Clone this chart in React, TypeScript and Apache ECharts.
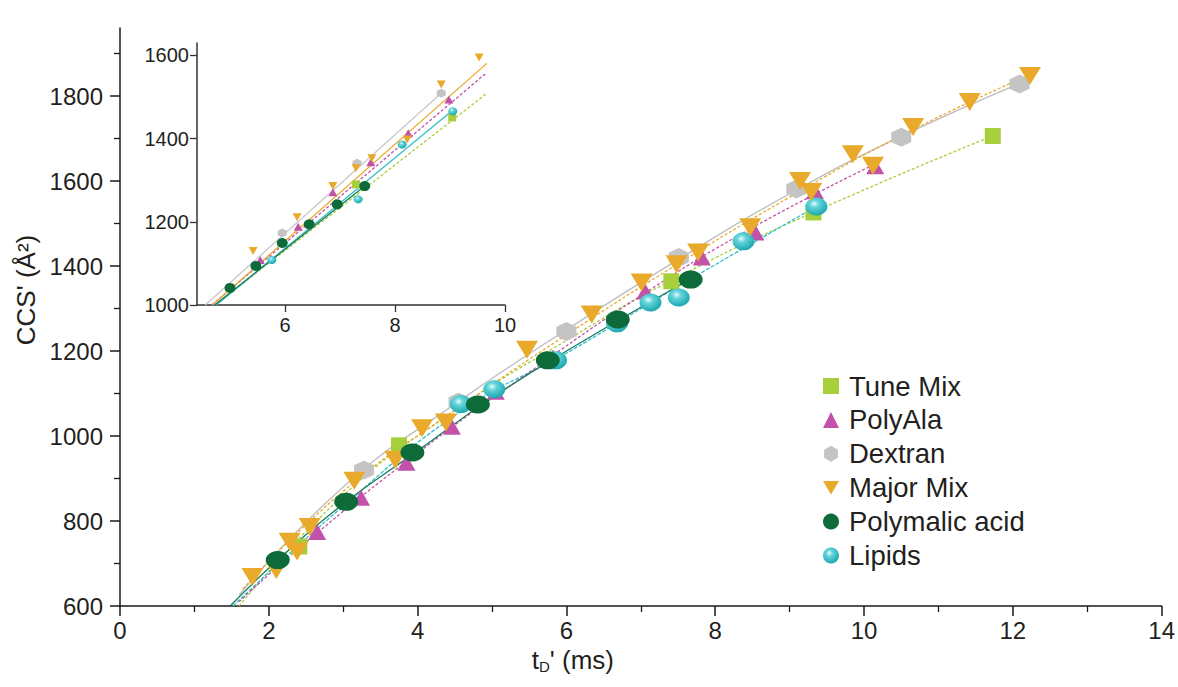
import React, { useEffect, useRef } from "react";
import * as echarts from "echarts";

// ---------- main chart data (t_D' ms, CCS' Å²) ----------
const tuneMix = [[2.41, 740], [3.75, 978], [7.41, 1364], [9.32, 1526], [11.73, 1706]];
const polyAla = [[2.65, 774], [3.24, 855], [3.85, 937], [4.46, 1022], [5.05, 1104], [5.82, 1185], [7.06, 1340], [7.82, 1420], [8.54, 1479], [9.34, 1576], [10.15, 1635]];
const dextran = [[3.28, 920], [4.55, 1080], [6.0, 1246], [7.51, 1420], [9.09, 1581], [10.5, 1703], [12.09, 1828]];
const majorMix = [[1.78, 668], [2.1, 685], [2.28, 751], [2.38, 728], [2.55, 786], [3.15, 895], [3.7, 944], [4.06, 1018], [4.38, 1032], [5.47, 1203], [6.34, 1286], [7.01, 1361], [7.48, 1404], [7.77, 1432], [8.47, 1491], [9.14, 1600], [9.29, 1574], [9.85, 1663], [10.12, 1636], [10.66, 1727], [11.42, 1786], [12.23, 1847]];
const polymalic = [[2.12, 708], [3.04, 845], [3.93, 961], [4.81, 1074], [5.75, 1178], [6.69, 1274], [7.67, 1368]];
const lipids = [[4.58, 1075], [5.03, 1110], [5.86, 1178], [6.68, 1265], [7.13, 1314], [7.51, 1326], [8.38, 1458], [9.36, 1540]];

// fitted curves, points
const fitTune = [[1.6, 600], [3, 860], [4.5, 1060], [6, 1225], [7.4, 1365], [9.3, 1525], [11.73, 1706]];
const fitPolyAla = [[1.6, 610], [2.5, 750], [4, 960], [5.5, 1150], [7, 1330], [8.5, 1490], [10.15, 1640]];
const fitDextran = [[1.6, 625], [3, 880], [4.5, 1075], [6, 1250], [7.5, 1415], [9, 1570], [10.5, 1705], [12.1, 1830]];
const fitMajor = [[1.65, 640], [3, 870], [4.5, 1060], [6, 1238], [7.5, 1405], [9, 1562], [10.5, 1707], [12.25, 1852]];
const fitPolymalic = [[1.48, 600], [2.12, 708], [3, 840], [4, 965], [5, 1090], [6, 1200], [7.67, 1370]];
const fitLipids = [[1.52, 600], [3, 835], [4.6, 1060], [6, 1195], [7.5, 1352], [9.36, 1540]];

// ---------- inset data ----------
const inTune = [[7.29, 1290], [9.04, 1451]];
const inPolyAla = [[5.55, 1108], [6.24, 1188], [6.87, 1271], [7.56, 1343], [8.24, 1413], [8.98, 1494]];
const inDextran = [[5.95, 1173], [7.31, 1341], [8.84, 1509]];
const inMajor = [[5.42, 1130], [6.22, 1211], [6.87, 1286], [7.29, 1329], [7.58, 1353], [8.22, 1398], [8.84, 1530], [9.53, 1595]];
const inPolymalic = [[5.0, 1041], [5.47, 1094], [5.95, 1149], [6.44, 1194], [6.95, 1242], [7.45, 1286]];
const inLipids = [[5.76, 1108], [7.33, 1254], [8.13, 1386], [9.05, 1466]];
const inFitTune = [[4.73, 1000], [9.67, 1509]];
const inFitPolyAla = [[4.67, 1000], [9.67, 1559]];
const inFitDextran = [[4.55, 1000], [8.84, 1509]];
const inFitMajor = [[4.68, 1000], [9.67, 1581]];
const inFitPolymalic = [[4.72, 1000], [7.45, 1286]];
const inFitLipids = [[4.75, 1000], [9.05, 1468]];

// ---------- ticks ----------
const mainYMajor = [600, 800, 1000, 1200, 1400, 1600, 1800];
const mainYMinor = [700, 900, 1100, 1300, 1500, 1700, 1900];
const insetXTicks = [6, 8, 10];
const insetYTicks = [1000, 1200, 1400, 1600];

const names = ["Tune Mix", "PolyAla", "Dextran", "Major Mix", "Polymalic acid", "Lipids"];

const C = {
  tune: "#a6cf3b",
  ala: "#c151a9",
  dex: "#c4c4c4",
  major: "#e9aa2c",
  pma: "#0c6b38",
  lip: "#2fbfc6",
};

const FONT = "Liberation Sans, Arial, Helvetica, sans-serif";
const TXT = "#231f20";

const DOWN_TRI = "path://M0,0L20,0L10,17Z";
const HEX = "path://M10,0L18.66,5L18.66,15L10,20L1.34,15L1.34,5Z";

const lipGrad = {
  type: "radial",
  x: 0.4,
  y: 0.35,
  r: 0.7,
  colorStops: [
    { offset: 0, color: "#e8fbfc" },
    { offset: 0.3, color: "#62d3d9" },
    { offset: 1, color: "#15a3ab" },
  ],
};

const plain = (v: number) => String(v);

function App() {
  const ref = useRef<HTMLDivElement>(null);
  useEffect(() => {
    document.body.style.margin = "0";
    if (!ref.current) return;
    const chart = echarts.init(ref.current, null, { renderer: "svg" });

    const pts = (name: string | undefined, data: number[][], color: any, symbol: string, size: any, z: number, xi = 0, yi = 0) => ({
      name,
      type: "scatter",
      xAxisIndex: xi,
      yAxisIndex: yi,
      data,
      symbol,
      symbolSize: size,
      itemStyle: { color, opacity: 1 },
      z,
    });
    const fit = (data: number[][], color: string, type: any, xi = 0, yi = 0, smooth = true) => ({
      type: "line",
      xAxisIndex: xi,
      yAxisIndex: yi,
      data,
      smooth,
      symbol: "none",
      lineStyle: { color, width: 1.3, type },
      z: 2,
      silent: true,
    });

    const option: any = {
      animation: false,
      backgroundColor: "#ffffff",
      textStyle: { fontFamily: FONT },
      legend: {
        data: names,
        orient: "vertical",
        left: 818,
        top: 367,
        itemWidth: 16,
        itemHeight: 16,
        itemGap: 5.9,
        textStyle: { fontSize: 27.5, color: TXT, fontFamily: FONT, lineHeight: 27.5, padding: [0, 0, 0, 5] },
        selectedMode: false,
      },
      grid: [
        { left: 120, top: 28, width: 1045, height: 578 },
        { left: 197, top: 43, width: 308, height: 262 },
      ],
      xAxis: [
        {
          type: "value",
          gridIndex: 0,
          min: 0,
          max: 14,
          interval: 2,
          name: "{t|t}{s|D}{t|' (ms)}",
          nameLocation: "middle",
          nameGap: 36,
          nameTextStyle: {
            padding: [0, 136, 0, 0],
            rich: {
              t: { fontSize: 26, color: TXT, fontFamily: FONT },
              s: { fontSize: 15, color: TXT, fontFamily: FONT, verticalAlign: "bottom", padding: [14, 0, 0, 0] },
            },
          },
          axisLine: { show: true, onZero: false, lineStyle: { color: "#1a1a1a", width: 1.5 } },
          axisTick: { show: true, length: 10, lineStyle: { color: "#1a1a1a", width: 1.5 } },
          minorTick: { show: true, splitNumber: 2, length: 6, lineStyle: { color: "#1a1a1a", width: 1.3 } },
          axisLabel: { fontSize: 24, color: TXT, margin: 12, fontFamily: FONT, formatter: plain },
          splitLine: { show: false },
          minorSplitLine: { show: false },
        },
        {
          type: "value",
          gridIndex: 1,
          min: 4.4,
          max: 10,
          axisLine: { show: true, onZero: false, lineStyle: { color: "#333", width: 1.5 } },
          axisTick: { show: true, length: 7, customValues: insetXTicks, lineStyle: { color: "#333", width: 1.3 } },
          axisLabel: { fontSize: 20, color: TXT, margin: 10, customValues: insetXTicks, fontFamily: FONT, formatter: plain },
          splitLine: { show: false },
        },
      ],
      yAxis: [
        {
          type: "value",
          gridIndex: 0,
          position: "left",
          min: 600,
          max: 1960,
          name: "CCS' (Å²)",
          nameLocation: "middle",
          nameGap: 78,
          nameTextStyle: { fontSize: 26, color: TXT, fontFamily: FONT, padding: [0, 0, 0, 54] },
          axisLine: { show: true, onZero: false, lineStyle: { color: "#1a1a1a", width: 1.5 } },
          axisTick: { show: true, length: 10, customValues: mainYMajor, lineStyle: { color: "#1a1a1a", width: 1.5 } },
          axisLabel: { fontSize: 24, color: TXT, margin: 17, customValues: mainYMajor, fontFamily: FONT, formatter: plain },
          splitLine: { show: false },
        },
        {
          type: "value",
          gridIndex: 0,
          position: "left",
          min: 600,
          max: 1960,
          axisLine: { show: false },
          axisTick: { show: true, length: 6, customValues: mainYMinor, lineStyle: { color: "#1a1a1a", width: 1.3 } },
          axisLabel: { show: false },
          splitLine: { show: false },
        },
        {
          type: "value",
          gridIndex: 1,
          position: "left",
          min: 1000,
          max: 1630,
          axisLine: { show: true, onZero: false, lineStyle: { color: "#333", width: 1.5 } },
          axisTick: { show: true, length: 7, customValues: insetYTicks, lineStyle: { color: "#333", width: 1.3 } },
          axisLabel: { fontSize: 20, color: TXT, margin: 8, customValues: insetYTicks, fontFamily: FONT, formatter: plain },
          splitLine: { show: false },
        },
      ],
      series: [
        // main fit curves
        fit(fitDextran, "#bdbdbd", "solid"),
        fit(fitTune, C.tune, [3, 2]),
        fit(fitLipids, C.lip, [4, 1.5]),
        fit(fitPolyAla, C.ala, [3, 2]),
        fit(fitMajor, C.major, [3, 2]),
        fit(fitPolymalic, "#187a5c", "solid"),
        // main points
        pts("Tune Mix", tuneMix, C.tune, "rect", [16, 16], 3),
        pts("Dextran", dextran, C.dex, HEX, [20, 19], 4),
        pts("PolyAla", polyAla, C.ala, "triangle", [18, 16], 5),
        pts("Lipids", lipids, lipGrad, "circle", [22, 18], 6),
        pts("Major Mix", majorMix, C.major, DOWN_TRI, [22, 18], 7),
        pts("Polymalic acid", polymalic, C.pma, "circle", [24, 18], 8),
        // inset fits
        fit(inFitDextran, "#c8c8c8", "solid", 1, 2, false),
        fit(inFitTune, C.tune, [3, 2], 1, 2, false),
        fit(inFitLipids, C.lip, "solid", 1, 2, false),
        fit(inFitPolyAla, C.ala, [3, 2], 1, 2, false),
        fit(inFitMajor, C.major, "solid", 1, 2, false),
        fit(inFitPolymalic, "#187a5c", "solid", 1, 2, false),
        // inset points
        pts(undefined, inTune, C.tune, "rect", [8, 8], 3, 1, 2),
        pts(undefined, inDextran, C.dex, HEX, [9, 9], 3, 1, 2),
        pts(undefined, inPolyAla, C.ala, "triangle", [9, 8], 4, 1, 2),
        pts(undefined, inLipids, lipGrad, "circle", [9, 8], 4, 1, 2),
        pts(undefined, inMajor, C.major, DOWN_TRI, [9, 8], 5, 1, 2),
        pts(undefined, inPolymalic, C.pma, "circle", [11, 10], 6, 1, 2),
      ],
    };
    chart.setOption(option);
    return () => chart.dispose();
  }, []);
  return <div ref={ref} style={{ width: 1178, height: 687 }} />;
}

export default App;
